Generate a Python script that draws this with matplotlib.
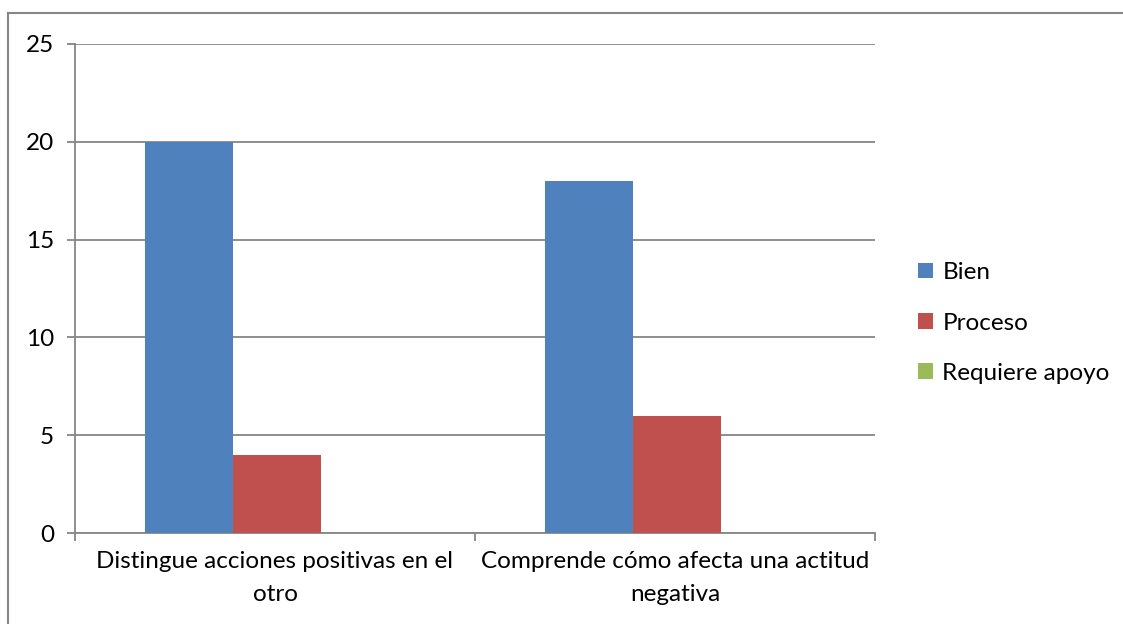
import matplotlib.pyplot as plt
from matplotlib.lines import Line2D
import numpy as np

categories = ["Distingue acciones positivas en el\notro",
              "Comprende cómo afecta una actitud\nnegativa"]
series = ["Bien", "Proceso", "Requiere apoyo"]
bien = [20, 18]
proceso = [4, 6]
requiere = [0, 0]
colors = ["#4F81BD", "#C0504D", "#9BBB59"]

plt.rcParams['font.family'] = ['Lato', 'DejaVu Sans']

fig = plt.figure(figsize=(11.23, 6.24), dpi=100)
ax = fig.add_axes([75/1123, 1-533/624, 800/1123, 489/624])

x = np.arange(len(categories))
w = 0.22
for i, (vals, name) in enumerate(zip([bien, proceso, requiere], series)):
    ax.bar(x + (i - 1) * w + 0.005, vals, w, color=colors[i], label=name, zorder=3)

ax.set_xlim(-0.5, 1.5)
ax.set_ylim(0, 25)
ax.set_yticks([0, 5, 10, 15, 20, 25])
ax.yaxis.grid(True, color="#868686", lw=1.3, zorder=0)
ax.set_xticks([-0.5, 0.5, 1.5])
ax.set_xticklabels([])
ax.set_xticks(x, minor=True)
ax.set_xticklabels(categories, minor=True, fontsize=17.5, linespacing=1.7)
ax.tick_params(axis='x', which='minor', length=0, pad=13)
ax.tick_params(axis='x', which='major', length=6, color="#868686", width=1.3)
ax.tick_params(axis='y', length=6, color="#868686", width=1.3, labelsize=17.5, pad=9)
for s in ['top', 'right']:
    ax.spines[s].set_visible(False)
for s in ['left', 'bottom']:
    ax.spines[s].set_color("#868686")
    ax.spines[s].set_linewidth(1.3)

ax.legend(loc='center left', bbox_to_anchor=(918/1123, 1-323/624),
          bbox_transform=fig.transFigure, frameon=False, fontsize=17.5,
          handlelength=0.6, handleheight=0.6, handletextpad=0.4,
          labelspacing=1.2, borderaxespad=0, borderpad=0)

# outer chart border (only top and left visible in the crop)
fig.add_artist(Line2D([8/1123, 8/1123], [0, 1-13/624], color="#868686", lw=1.5,
                      transform=fig.transFigure))
fig.add_artist(Line2D([8/1123, 1], [1-13/624, 1-13/624], color="#868686", lw=1.5,
                      transform=fig.transFigure))

fig.savefig("out.png", dpi=100)
